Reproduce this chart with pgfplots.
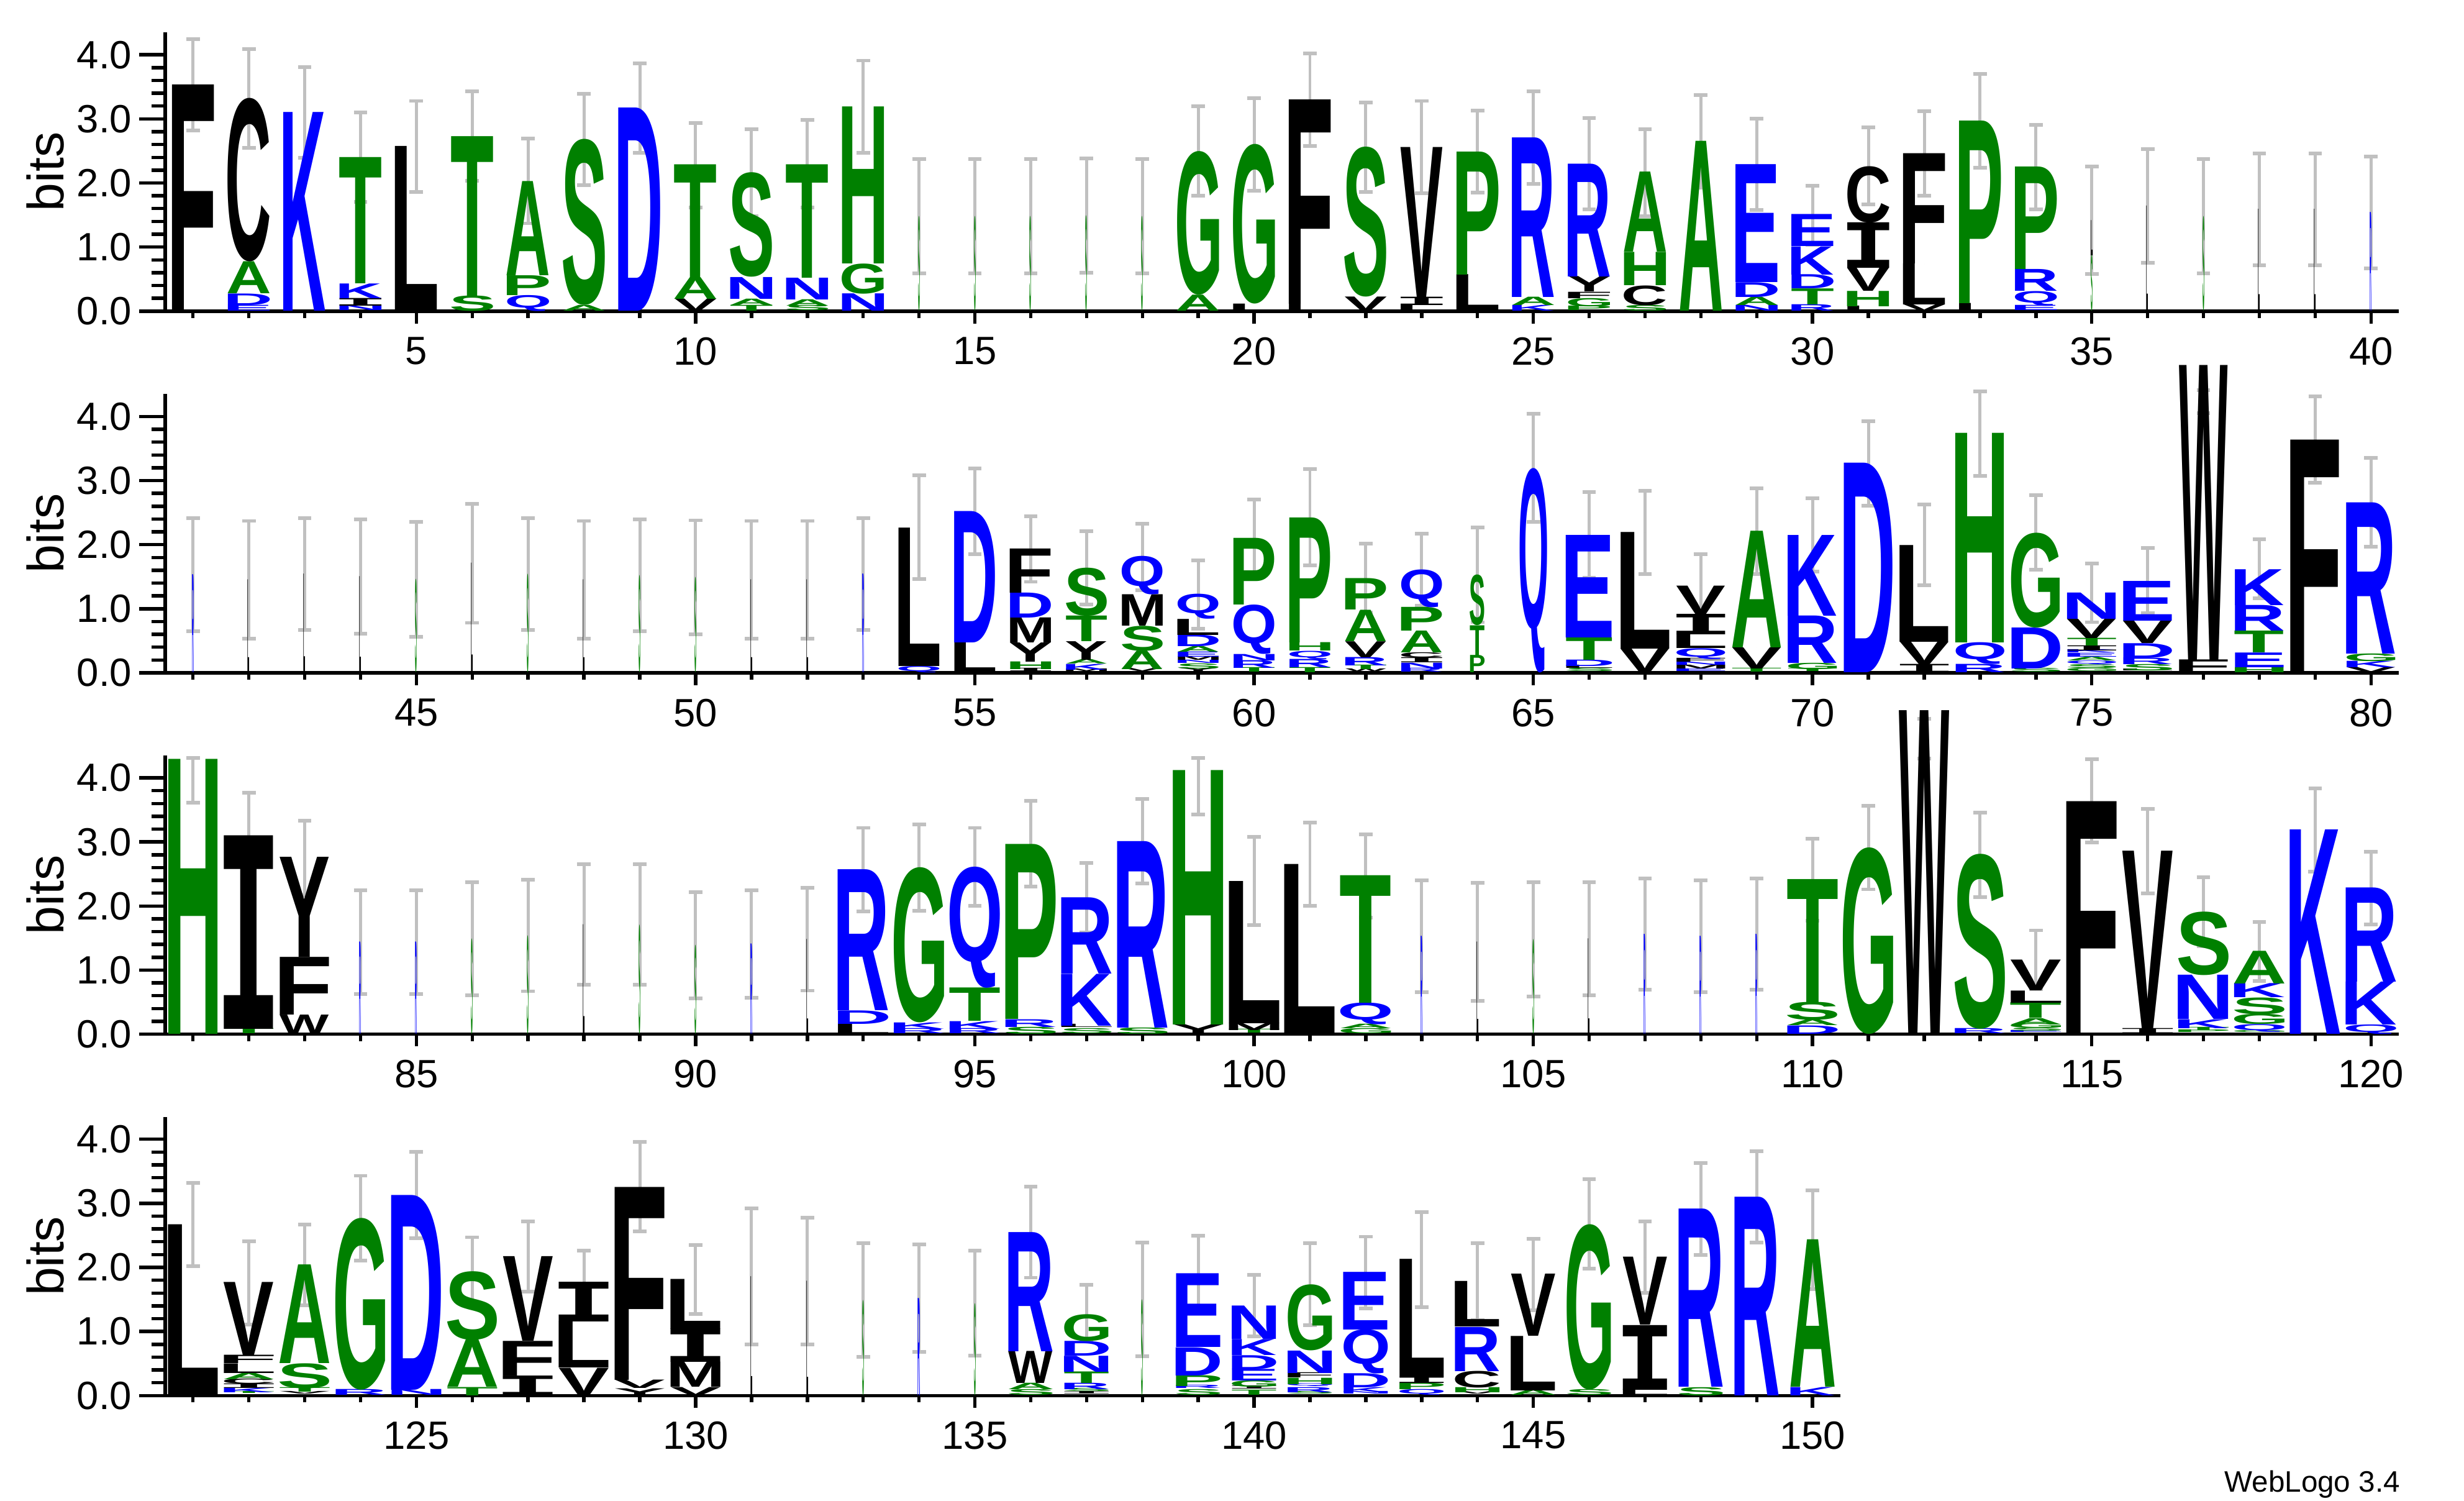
\documentclass[border=0pt]{standalone}
\usepackage{pgfplots}
\usepackage{pgfplotstable}
\usepackage{graphicx}
\usepackage{fontspec}
\pgfplotsset{compat=1.18}
\setmainfont{Liberation Sans}
\newfontfamily\lfont{Liberation Sans}
\newfontfamily\ifont{DejaVu Sans Mono}
\definecolor{lgreen}{RGB}{0,128,0}
\definecolor{lblue}{RGB}{0,0,255}
\definecolor{ebgray}{RGB}{192,192,192}
\newdimen\LogoXU \LogoXU=9.066pt
\newdimen\LogoYU \LogoYU=10.40pt
\newcommand\mkL[3]{\expandafter\newsavebox\csname LBB#1\endcsname
  \expandafter\sbox\csname LBB#1\endcsname{#3\bfseries\color{#2}\kern-\XeTeXglyphbounds1 \XeTeXcharglyph`#1 #1\kern-\XeTeXglyphbounds3 \XeTeXcharglyph`#1 \relax}}
\AtBeginDocument{%
\mkL{F}{black}{\lfont}\mkL{L}{black}{\lfont}\mkL{W}{black}{\lfont}\mkL{V}{black}{\lfont}%
\mkL{C}{black}{\lfont}\mkL{Y}{black}{\lfont}\mkL{M}{black}{\lfont}\mkL{I}{black}{\ifont}%
\mkL{G}{lgreen}{\lfont}\mkL{S}{lgreen}{\lfont}\mkL{T}{lgreen}{\lfont}\mkL{A}{lgreen}{\lfont}%
\mkL{H}{lgreen}{\lfont}\mkL{P}{lgreen}{\lfont}%
\mkL{D}{lblue}{\lfont}\mkL{E}{lblue}{\lfont}\mkL{K}{lblue}{\lfont}\mkL{R}{lblue}{\lfont}%
\mkL{N}{lblue}{\lfont}\mkL{Q}{lblue}{\lfont}}
\newcommand\LogoLetter{\resizebox*{\LogoW\LogoXU}{\LogoH\LogoYU}{\expandafter\usebox\csname LBB\pgfplotspointmeta\endcsname}}

\pgfplotstableread{
x y h w l
1 0 3.53 0.75 F
2 0 0.09 0.75 E
2 0.09 0.18 0.75 D
2 0.27 0.50 0.75 A
2 0.77 2.55 0.75 C
3 0 3.10 0.75 K
4 0 0.08 0.75 N
4 0.08 0.12 0.75 I
4 0.20 0.23 0.75 K
4 0.43 1.97 0.75 T
5 0 2.57 0.75 L
6 0 0.24 0.75 S
6 0.24 2.49 0.75 T
7 0 0.25 0.75 Q
7 0.25 0.31 0.75 P
7 0.56 1.47 0.75 A
8 0 0.09 0.75 A
8 0.09 2.59 0.75 S
9 0 3.17 0.75 D
10 0 0.19 0.75 V
10 0.19 0.34 0.75 A
10 0.53 1.76 0.75 T
11 0 0.09 0.75 T
11 0.09 0.10 0.75 A
11 0.19 0.34 0.75 N
11 0.53 1.63 0.75 S
12 0 0.08 0.75 S
12 0.08 0.10 0.75 A
12 0.18 0.34 0.75 N
12 0.52 1.77 0.75 T
13 0 0.27 0.75 N
13 0.27 0.47 0.75 G
13 0.74 2.45 0.75 H
14 0 1.48 0.03 S
15 0 1.48 0.03 S
16 0 1.48 0.03 S
17 0 1.49 0.03 S
18 0 1.48 0.03 S
19 0 0.25 0.75 A
19 0.25 2.24 0.75 G
20 0 0.11 0.75 L
20 0.11 2.49 0.75 G
21 0 0.11 0.75 L
21 0.11 3.19 0.75 F
22 0 0.22 0.75 V
22 0.22 2.34 0.75 S
23 0 0.09 0.75 L
23 0.09 0.13 0.75 I
23 0.22 2.34 0.75 V
24 0 0.57 0.75 L
24 0.57 1.92 0.75 P
25 0 0.09 0.75 K
25 0.09 0.13 0.75 A
25 0.22 2.49 0.75 R
26 0 0.07 0.75 P
26 0.07 0.13 0.75 G
26 0.20 0.10 0.75 F
26 0.30 0.24 0.75 Y
26 0.54 1.76 0.75 R
27 0 0.09 0.75 S
27 0.09 0.31 0.75 C
27 0.40 0.52 0.75 H
27 0.92 1.25 0.75 A
28 0 2.65 0.75 A
29 0 0.09 0.75 N
29 0.09 0.13 0.75 A
29 0.22 0.23 0.75 D
29 0.45 1.84 0.75 E
30 0 0.10 0.75 R
30 0.10 0.25 0.75 T
30 0.35 0.22 0.75 D
30 0.57 0.44 0.75 K
30 1.01 0.50 0.75 E
31 0 0.07 0.75 L
31 0.07 0.24 0.75 H
31 0.31 0.36 0.75 V
31 0.67 0.71 0.75 I
31 1.38 0.88 0.75 C
32 0 0.10 0.75 V
32 0.10 0.64 0.75 L
32 0.74 1.72 0.75 F
33 0 0.12 0.75 L
33 0.12 2.85 0.75 P
34 0 0.08 0.75 E
34 0.08 0.23 0.75 Q
34 0.31 0.34 0.75 R
34 0.65 1.60 0.75 P
35 0 0.87 0.03 S
35 0.87 0.55 0.03 L
36 0 1.64 0.03 L
37 0 1.48 0.03 S
38 0 1.59 0.03 L
39 0 1.59 0.03 L
40 0 1.54 0.03 R
}\lettA
\pgfplotstableread{
x c e
1 3.53 0.71
2 3.32 0.77
3 3.10 0.71
4 2.40 0.70
5 2.57 0.71
6 2.73 0.70
7 2.03 0.66
8 2.68 0.71
9 3.17 0.70
10 2.28 0.66
11 2.16 0.68
12 2.30 0.68
13 3.19 0.72
14 1.48 0.89
15 1.48 0.89
16 1.48 0.89
17 1.49 0.89
18 1.48 0.89
19 2.50 0.70
20 2.60 0.72
21 3.30 0.72
22 2.56 0.70
23 2.56 0.72
24 2.49 0.64
25 2.71 0.72
26 2.30 0.71
27 2.16 0.68
28 2.65 0.72
29 2.29 0.71
30 1.50 0.46
31 2.27 0.60
32 2.46 0.66
33 2.97 0.73
34 2.25 0.66
35 1.42 0.84
36 1.64 0.89
37 1.48 0.89
38 1.59 0.87
39 1.59 0.87
40 1.54 0.87
}\errA

\pgfplotstableread{
x y h w l
41 0 1.53 0.03 R
42 0 1.45 0.03 L
43 0 1.54 0.03 L
44 0 1.50 0.03 L
45 0 1.46 0.03 S
46 0 1.71 0.03 L
47 0 1.54 0.03 S
48 0 1.45 0.03 L
49 0 1.52 0.03 S
50 0 1.49 0.03 S
51 0 1.45 0.03 L
52 0 1.45 0.03 L
53 0 1.54 0.03 R
54 0 0.10 0.73 Q
54 0.10 2.16 0.73 L
55 0 0.47 0.73 L
55 0.47 2.05 0.73 D
56 0 0.05 0.73 I
56 0.05 0.12 0.73 H
56 0.17 0.30 0.73 Y
56 0.47 0.39 0.73 M
56 0.86 0.39 0.73 D
56 1.25 0.69 0.73 F
57 0 0.04 0.73 M
57 0.04 0.09 0.73 K
57 0.13 0.07 0.73 A
57 0.20 0.29 0.73 Y
57 0.49 0.40 0.73 T
57 0.89 0.75 0.73 S
58 0 0.05 0.73 V
58 0.05 0.29 0.73 A
58 0.34 0.39 0.73 S
58 0.73 0.49 0.73 M
58 1.22 0.60 0.73 Q
59 0 0.05 0.73 Y
59 0.05 0.08 0.73 S
59 0.13 0.05 0.73 N
59 0.18 0.06 0.73 M
59 0.24 0.08 0.73 E
59 0.32 0.09 0.73 A
59 0.41 0.18 0.73 D
59 0.59 0.25 0.73 L
59 0.84 0.39 0.73 Q
60 0 0.07 0.73 T
60 0.07 0.12 0.73 R
60 0.19 0.10 0.73 N
60 0.29 0.77 0.73 Q
60 1.06 1.04 0.73 P
61 0 0.08 0.73 T
61 0.08 0.13 0.73 R
61 0.21 0.13 0.73 Q
61 0.34 0.13 0.73 H
61 0.47 1.95 0.73 P
62 0 0.04 0.73 W
62 0.04 0.07 0.73 T
62 0.11 0.13 0.73 R
62 0.24 0.25 0.73 V
62 0.49 0.49 0.73 A
62 0.98 0.49 0.73 P
63 0 0.06 0.73 R
63 0.06 0.09 0.73 N
63 0.15 0.08 0.73 I
63 0.23 0.08 0.73 C
63 0.31 0.34 0.73 A
63 0.65 0.37 0.73 P
63 1.02 0.59 0.73 Q
64 0 0.27 0.26 P
64 0.27 0.47 0.26 T
64 0.74 0.79 0.26 S
65 0 3.19 0.49 Q
66 0 0.05 0.82 S
66 0.05 0.05 0.82 L
66 0.10 0.10 0.82 D
66 0.20 0.35 0.82 T
66 0.55 1.60 0.82 E
67 0 0.37 0.87 V
67 0.37 1.82 0.87 L
68 0 0.04 0.87 E
68 0.04 0.06 0.87 M
68 0.10 0.05 0.87 N
68 0.15 0.06 0.87 F
68 0.21 0.17 0.87 Q
68 0.38 0.22 0.87 L
68 0.60 0.32 0.87 I
68 0.92 0.44 0.87 V
69 0 0.06 0.87 T
69 0.06 0.33 0.87 V
69 0.39 1.82 0.87 A
70 0 0.05 0.87 T
70 0.05 0.10 0.87 G
70 0.15 0.74 0.87 R
70 0.89 1.26 0.87 K
71 0 3.27 0.87 D
72 0 0.13 0.87 I
72 0.13 0.35 0.87 V
72 0.48 1.51 0.87 L
73 0 0.13 0.87 R
73 0.13 0.34 0.87 Q
73 0.47 3.27 0.87 H
74 0 0.06 0.87 S
74 0.06 0.64 0.87 D
74 0.70 1.48 0.87 G
75 0 0.05 0.87 G
75 0.05 0.06 0.87 S
75 0.11 0.06 0.87 Q
75 0.17 0.06 0.87 A
75 0.23 0.06 0.87 E
75 0.29 0.05 0.87 K
75 0.34 0.08 0.87 I
75 0.42 0.12 0.87 T
75 0.54 0.30 0.87 V
75 0.84 0.41 0.87 N
76 0 0.03 0.87 L
76 0.03 0.10 0.87 S
76 0.13 0.10 0.87 R
76 0.23 0.23 0.87 D
76 0.46 0.35 0.87 V
76 0.81 0.62 0.87 E
77 0 0.20 0.87 F
77 0.20 4.60 0.87 W
78 0 0.08 0.87 H
78 0.08 0.23 0.87 E
78 0.31 0.34 0.87 T
78 0.65 0.40 0.87 R
78 1.05 0.56 0.87 K
79 0 3.63 0.87 F
80 0 0.08 0.87 V
80 0.08 0.10 0.87 K
80 0.18 0.12 0.87 G
80 0.30 2.36 0.87 R
}\lettB
\pgfplotstableread{
x c e
41 1.53 0.88
42 1.45 0.92
43 1.54 0.87
44 1.50 0.89
45 1.46 0.90
46 1.71 0.93
47 1.54 0.87
48 1.45 0.92
49 1.52 0.87
50 1.49 0.89
51 1.45 0.92
52 1.45 0.92
53 1.54 0.87
54 2.27 0.81
55 2.52 0.67
56 1.93 0.51
57 1.64 0.57
58 1.81 0.52
59 1.22 0.53
60 2.10 0.60
61 2.43 0.75
62 1.48 0.54
63 1.61 0.56
64 1.53 0.74
65 3.20 0.84
66 2.15 0.67
67 2.19 0.65
68 1.36 0.49
69 2.21 0.67
70 2.15 0.57
71 3.27 0.66
72 2.00 0.63
73 3.73 0.66
74 2.19 0.58
75 1.25 0.46
76 1.44 0.51
77 4.23 0.18
78 1.62 0.46
79 3.64 0.67
80 2.66 0.69
}\errB

\pgfplotstableread{
x y h w l
81 0 4.29 0.88 H
82 0 0.08 0.88 T
82 0.08 3.02 0.88 I
83 0 0.30 0.88 W
83 0.30 0.90 0.88 F
83 1.20 1.56 0.88 Y
84 0 1.44 0.03 R
85 0 1.44 0.03 R
86 0 1.49 0.03 S
87 0 1.54 0.03 S
88 0 1.71 0.03 L
89 0 1.71 0.03 S
90 0 1.39 0.03 S
91 0 1.41 0.03 R
92 0 1.48 0.03 L
93 0 0.16 0.9 L
93 0.16 0.21 0.9 D
93 0.37 2.20 0.9 R
94 0 0.08 0.9 R
94 0.08 0.10 0.9 K
94 0.18 2.42 0.9 G
95 0 0.08 0.9 R
95 0.08 0.12 0.9 K
95 0.20 0.52 0.9 T
95 0.72 1.89 0.9 Q
96 0 0.11 0.9 S
96 0.11 0.12 0.9 R
96 0.23 2.73 0.9 P
97 0 0.08 0.9 S
97 0.08 0.05 0.9 L
97 0.13 0.81 0.9 K
97 0.94 1.19 0.9 R
98 0 0.10 0.9 S
98 0.10 2.91 0.9 R
99 0 0.15 0.9 Y
99 0.15 3.97 0.9 H
100 0 0.06 0.9 T
100 0.06 0.11 0.9 M
100 0.17 2.22 0.9 L
101 0 2.65 0.9 L
102 0 0.08 0.9 G
102 0.08 0.07 0.9 A
102 0.15 0.34 0.9 Q
102 0.49 1.99 0.9 T
103 0 1.53 0.03 R
104 0 1.44 0.03 L
105 0 1.48 0.03 S
106 0 1.49 0.03 L
107 0 1.56 0.03 R
108 0 1.53 0.03 R
109 0 1.56 0.03 R
110 0 0.13 0.9 D
110 0.13 0.09 0.9 A
110 0.22 0.28 0.9 S
110 0.50 1.92 0.9 T
111 0 2.91 0.9 G
112 0 5.05 0.9 W
113 0 0.08 0.9 R
113 0.08 2.73 0.9 S
114 0 0.03 0.9 E
114 0.03 0.05 0.9 S
114 0.08 0.07 0.9 G
114 0.15 0.10 0.9 A
114 0.25 0.24 0.9 T
114 0.49 0.19 0.9 L
114 0.68 0.48 0.9 V
115 0 3.63 0.9 F
116 0 0.08 0.9 I
116 0.08 2.78 0.9 V
117 0 0.04 0.9 P
117 0.04 0.05 0.9 T
117 0.09 0.14 0.9 K
117 0.23 0.69 0.9 N
117 0.92 0.99 0.9 S
118 0 0.03 0.9 G
118 0.03 0.12 0.9 Q
118 0.15 0.16 0.9 G
118 0.31 0.26 0.9 S
118 0.57 0.22 0.9 K
118 0.79 0.51 0.9 A
119 0 3.19 0.9 K
120 0 0.15 0.9 Q
120 0.15 0.67 0.9 K
120 0.82 1.47 0.9 R
}\lettC
\pgfplotstableread{
x c e
81 3.96 0.35
82 3.10 0.67
83 2.75 0.58
84 1.44 0.81
85 1.44 0.81
86 1.49 0.88
87 1.54 0.87
88 1.71 0.94
89 1.71 0.94
90 1.39 0.83
91 1.41 0.84
92 1.48 0.80
93 2.57 0.65
94 2.60 0.67
95 2.61 0.61
96 2.97 0.67
97 2.13 0.54
98 3.01 0.66
99 3.87 0.44
100 2.39 0.69
101 2.65 0.65
102 2.47 0.65
103 1.53 0.87
104 1.44 0.92
105 1.48 0.89
106 1.49 0.88
107 1.56 0.87
108 1.53 0.87
109 1.56 0.87
110 2.41 0.64
111 2.91 0.65
112 4.61 0.31
113 2.80 0.66
114 1.16 0.46
115 3.64 0.65
116 2.86 0.66
117 1.91 0.54
118 1.29 0.46
119 3.19 0.65
120 2.28 0.57
}\errC

\pgfplotstableread{
x y h w l
121 0 2.67 0.89 L
122 0 0.03 0.89 T
122 0.03 0.07 0.89 K
122 0.10 0.07 0.89 I
122 0.17 0.08 0.89 C
122 0.25 0.10 0.89 A
122 0.35 0.15 0.89 L
122 0.50 0.13 0.89 F
122 0.63 1.14 0.89 V
123 0 0.04 0.89 V
123 0.04 0.07 0.89 T
123 0.11 0.39 0.89 S
123 0.50 1.54 0.89 A
124 0 0.09 0.89 R
124 0.09 2.68 0.89 G
125 0 0.09 0.89 N
125 0.09 3.04 0.89 D
126 0 0.13 0.89 T
126 0.13 0.74 0.89 A
126 0.87 1.07 0.89 S
127 0 0.31 0.89 I
127 0.31 0.54 0.89 F
127 0.85 1.32 0.89 V
128 0 0.43 0.89 V
128 0.43 0.72 0.89 L
128 1.15 0.62 0.89 I
129 0 0.11 0.89 Y
129 0.11 0.13 0.89 V
129 0.24 3.01 0.89 F
130 0 0.13 0.89 V
130 0.13 0.39 0.89 M
130 0.52 0.52 0.89 I
130 1.04 0.78 0.89 L
131 0 1.86 0.03 L
132 0 1.79 0.03 L
133 0 1.49 0.03 S
134 0 1.52 0.04 R
135 0 1.44 0.03 S
136 0 0.09 0.79 S
136 0.09 0.10 0.79 A
136 0.19 0.50 0.79 W
136 0.69 1.86 0.79 R
137 0 0.04 0.79 I
137 0.04 0.05 0.79 S
137 0.09 0.10 0.79 R
137 0.19 0.18 0.79 T
137 0.37 0.25 0.79 N
137 0.62 0.23 0.79 D
137 0.85 0.42 0.79 G
138 0 1.50 0.03 S
139 0 0.09 0.79 S
139 0.09 0.05 0.79 R
139 0.14 0.17 0.79 P
139 0.31 0.44 0.79 D
139 0.75 1.15 0.79 E
140 0 0.08 0.79 T
140 0.08 0.05 0.79 I
140 0.13 0.10 0.79 G
140 0.23 0.18 0.79 E
140 0.41 0.22 0.79 D
140 0.63 0.25 0.79 K
140 0.88 0.52 0.79 N
141 0 0.04 0.79 S
141 0.04 0.08 0.79 R
141 0.12 0.05 0.79 Q
141 0.17 0.10 0.79 H
141 0.27 0.08 0.79 F
141 0.35 0.35 0.79 N
141 0.70 1.03 0.79 G
142 0 0.04 0.79 N
142 0.04 0.08 0.79 K
142 0.12 0.22 0.79 D
142 0.34 0.69 0.79 Q
142 1.03 0.90 0.79 E
143 0 0.09 0.79 Q
143 0.09 0.10 0.79 P
143 0.19 0.10 0.79 I
143 0.29 1.84 0.79 L
144 0 0.04 0.79 V
144 0.04 0.08 0.79 H
144 0.12 0.26 0.79 C
144 0.38 0.69 0.79 R
144 1.07 0.71 0.79 L
145 0 0.08 0.79 A
145 0.08 0.85 0.79 L
145 0.93 0.97 0.79 V
146 0 0.09 0.79 S
146 0.09 2.58 0.79 G
147 0 0.09 0.79 L
147 0.09 1.01 0.79 I
147 1.10 1.06 0.79 V
148 0 0.13 0.79 S
148 0.13 2.78 0.79 R
149 0 3.10 0.79 R
150 0 0.13 0.79 K
150 0.13 2.30 0.79 A
}\lettD
\pgfplotstableread{
x c e
121 2.67 0.65
122 1.76 0.65
123 2.04 0.63
124 2.77 0.66
125 3.13 0.67
126 1.94 0.53
127 2.17 0.55
128 1.78 0.48
129 3.26 0.70
130 1.81 0.54
131 1.86 1.06
132 1.79 0.99
133 1.49 0.89
134 1.52 0.84
135 1.44 0.82
136 2.55 0.71
137 1.29 0.44
138 1.50 0.89
139 1.90 0.59
140 1.40 0.48
141 1.74 0.64
142 1.92 0.56
143 2.12 0.74
144 1.78 0.60
145 1.89 0.56
146 2.68 0.70
147 2.16 0.56
148 2.91 0.72
149 3.10 0.71
150 2.43 0.77
}\errD

\pgfplotsset{
  logo/.style={
    x=9.066pt, y=10.40pt, ymin=0, ymax=4.35, clip=false,
    axis x line*=bottom, axis y line*=left,
    axis line style={-, line width=0.55pt},
    tick align=outside,
    every tick/.style={black, line width=0.55pt},
    major tick length=4.2pt, minor tick length=2.2pt,
    x tick style={/pgfplots/major tick length=2pt, /pgfplots/minor tick length=1.1pt},
    ytick={0,1,2,3,4}, minor y tick num=4,
    yticklabel={\pgfmathprintnumber[fixed,fixed zerofill,precision=1,assume math mode=true]{\tick}},
    xticklabel={\pgfmathprintnumber[assume math mode=true]{\tick}},
    tick label style={font=\fontsize{6.4}{7}\selectfont},
    yticklabel style={inner sep=1pt},
    xticklabel style={yshift=3.5pt},
    ylabel={bits},
    ylabel style={font=\fontsize{8.3}{9}\selectfont, anchor=center},
  },
  letters/.style={
    only marks, mark=*, mark size=0pt, mark options={draw=none,fill=none},
    point meta=explicit symbolic,
    visualization depends on={\thisrow{h}\as\LogoH},
    visualization depends on={\thisrow{w}\as\LogoW},
    nodes near coords={\LogoLetter},
    every node near coord/.append style={anchor=south, inner sep=0pt, outer sep=0pt},
  },
  errs/.style={
    only marks, mark=*, mark size=0pt, mark options={draw=none,fill=none}, forget plot,
    error bars/.cd, y dir=both, y explicit,
    error bar style={draw=ebgray, line width=0.5pt},
    error mark options={draw=ebgray, line width=0.6pt, mark size=1.1pt, rotate=90},
  },
}

\begin{document}
\begin{tikzpicture}
\useasboundingbox (0,0) rectangle (400pt,243.6pt);

\begin{axis}[logo, at={(26.8pt,193.1pt)}, anchor=south west,
  xmin=0.5, xmax=40.5, xtick={5,10,...,40}, minor xtick={1,...,40},
  ylabel style={at={(axis description cs:-0.0535,0.5)}}]
\addplot[letters] table[x=x,y=y,meta=l] \lettA;
\addplot[errs] table[x=x,y=c,y error=e] \errA;
\end{axis}

\begin{axis}[logo, at={(26.8pt,134.4pt)}, anchor=south west,
  xmin=40.5, xmax=80.5, xtick={45,50,...,80}, minor xtick={41,...,80},
  ylabel style={at={(axis description cs:-0.0535,0.5)}}]
\addplot[letters] table[x=x,y=y,meta=l] \lettB;
\addplot[errs] table[x=x,y=c,y error=e] \errB;
\end{axis}

\begin{axis}[logo, at={(26.8pt,75.75pt)}, anchor=south west,
  xmin=80.5, xmax=120.5, xtick={85,90,...,120}, minor xtick={81,...,120},
  ylabel style={at={(axis description cs:-0.0535,0.5)}}]
\addplot[letters] table[x=x,y=y,meta=l] \lettC;
\addplot[errs] table[x=x,y=c,y error=e] \errC;
\end{axis}

\begin{axis}[logo, at={(26.8pt,17.1pt)}, anchor=south west,
  xmin=120.5, xmax=150.5, xtick={125,130,...,150}, minor xtick={121,...,150},
  ylabel style={at={(axis description cs:-0.0713,0.5)}}]
\addplot[letters] table[x=x,y=y,meta=l] \lettD;
\addplot[errs] table[x=x,y=c,y error=e] \errD;
\end{axis}

\node[anchor=base east, font=\fontsize{4.8}{5}\selectfont, inner sep=0pt] at (389.8pt,1.5pt) {WebLogo 3.4};
\end{tikzpicture}
\end{document}
